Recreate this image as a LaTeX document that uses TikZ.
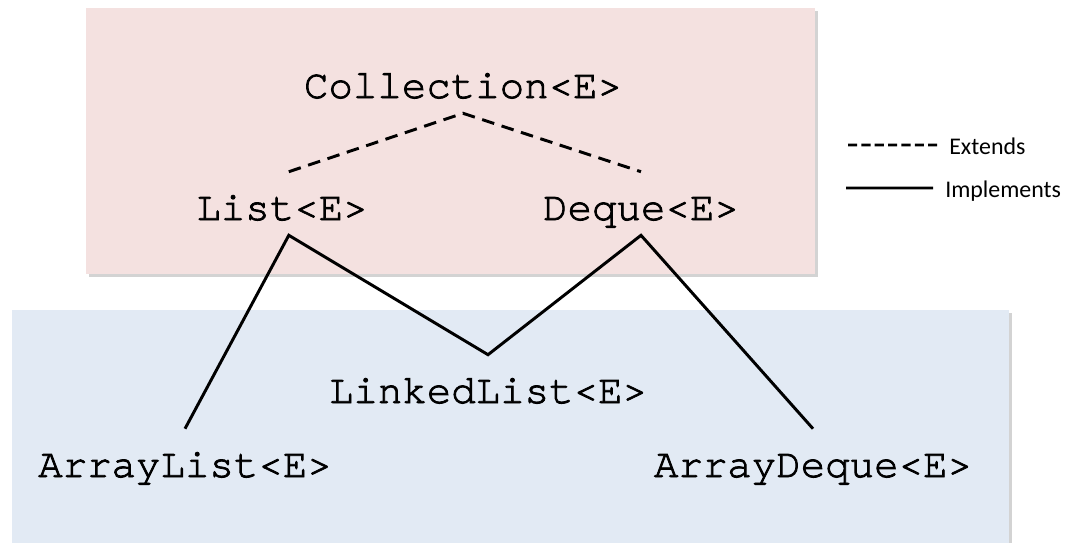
\documentclass[tikz,border=0pt]{standalone}
\usepackage{fontspec}
\setmainfont{Liberation Serif}
\newfontfamily\codefont[Extension=.otf,FakeBold=2]{texgyrecursor-regular}
\newfontfamily\legfont{Carlito}
\usetikzlibrary{shadows}
\definecolor{boxpink}{HTML}{F4E1E0}
\definecolor{boxblue}{HTML}{E2EAF4}
\tikzset{
  classnode/.style = {anchor=base,font=\codefont\fontsize{29}{35}\selectfont,
                      text height=0.825cm,text depth=0pt,inner xsep=0pt,inner ysep=0.375cm},
  extline/.style   = {line width=2.1pt,dash pattern=on 9pt off 5.5pt},
  implline/.style  = {line width=2.1pt,line join=miter},
  legdash/.style   = {line width=2.1pt,dash pattern=on 6.5pt off 3pt},
  legtext/.style   = {anchor=base west,font=\legfont\fontsize{17}{20}\selectfont,
                      text height=0.45cm,text depth=0pt,inner xsep=0.3cm},
  pkgbox/.style    = {drop shadow={shadow xshift=0.07cm,shadow yshift=-0.07cm,opacity=0.35}}
}

\begin{document}
\begin{tikzpicture}[x=0.025cm,y=-0.025cm]
  \useasboundingbox (0,0) rectangle (1067,542);
  \fill[boxpink,pkgbox] (86,8) rectangle (815,274);
  \fill[boxblue,pkgbox] (12,310) rectangle (1009,560);

  \node[classnode] (coll)   at (463,98)  {Collection<E>};
  \node[classnode] (list)   at (282,220) {List<E>};
  \node[classnode] (deque)  at (641,220) {Deque<E>};
  \node[classnode] (linked) at (488,403) {LinkedList<E>};
  \node[classnode] (alist)  at (185,477) {ArrayList<E>};
  \node[classnode] (adeque) at (813,477) {ArrayDeque<E>};

  \draw[extline] ([xshift=0.17cm]list.north) -- (coll.south) -- (deque.north);
  \draw[implline] (alist.north) -- ([xshift=0.17cm]list.south) -- (linked.north)
                  -- (deque.south) -- (adeque.north);

  \node[legtext] (ext)  at (937,154) {Extends};
  \node[legtext] (impl) at (933,197) {Implements};
  \coordinate (extA)  at (848,145);
  \coordinate (implA) at (846,188);
  \draw[legdash] (extA) -- (ext.west);
  \draw[implline] (implA) -- (impl.west);
\end{tikzpicture}
\end{document}
